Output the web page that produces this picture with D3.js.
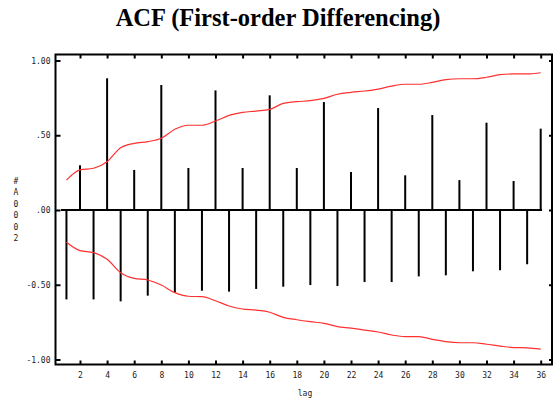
<!DOCTYPE html>
<html>
<head>
<meta charset="utf-8">
<script src="https://cdn.jsdelivr.net/npm/d3@7/dist/d3.min.js"></script>
<style>
  html, body { margin: 0; padding: 0; background: #fff; }
  svg { display: block; }
</style>
</head>
<body>
<svg id="chart" width="556" height="402"></svg>
<script>
// Autocorrelation of the first-differenced series, lags 1..36
const lags = d3.range(1, 37);
const acf = [
  -0.598, 0.299, -0.598, 0.881, -0.611, 0.268, -0.573, 0.836, -0.553,
  0.281, -0.540, 0.800, -0.546, 0.281, -0.528, 0.767, -0.513, 0.281,
  -0.502, 0.722, -0.508, 0.254, -0.482, 0.682, -0.482, 0.232, -0.444,
  0.635, -0.437, 0.200, -0.410, 0.584, -0.403, 0.194, -0.363, 0.544
];
// Upper and lower confidence limits
const upperLimit = [
  0.200, 0.268, 0.279, 0.323, 0.417, 0.446, 0.457, 0.480, 0.540,
  0.567, 0.567, 0.595, 0.633, 0.653, 0.662, 0.673, 0.713, 0.725,
  0.731, 0.747, 0.774, 0.787, 0.796, 0.809, 0.829, 0.841, 0.841,
  0.854, 0.872, 0.878, 0.878, 0.888, 0.905, 0.910, 0.910, 0.918
];
const lowerLimit = [
  -0.216, -0.272, -0.285, -0.330, -0.419, -0.457, -0.468, -0.502, -0.553,
  -0.577, -0.580, -0.607, -0.642, -0.662, -0.670, -0.684, -0.718, -0.734,
  -0.747, -0.758, -0.780, -0.790, -0.803, -0.816, -0.836, -0.847, -0.847,
  -0.865, -0.881, -0.888, -0.888, -0.898, -0.910, -0.920, -0.922, -0.930
];
const xTickValues = d3.range(2, 37, 2);
const yTickValues = [1, 0.5, 0, -0.5, -1];
const yTickLabels = ["1.00", ".50", ".00", "-0.50", "-1.00"];
const titleText = "ACF (First-order Differencing)";
const xLabel = "lag";
const yLabel = "#A0002";

const svg = d3.select("#chart");
const frame = { left: 55.5, right: 552, top: 54.5, bottom: 364.5 };

const x = d3.scaleLinear().domain([2, 36]).range([80, 540.7]);
const y = d3.scaleLinear().domain([-1, 1]).range([359.5, 60.5]);

// Title
svg.append("text")
  .attr("x", 278).attr("y", 26)
  .attr("text-anchor", "middle")
  .style("font-family", "'Liberation Serif', 'Times New Roman', serif")
  .style("font-weight", "bold")
  .style("font-size", "24.5px")
  .text(titleText);

const tickFont = "'DejaVu Sans Mono', monospace";

// Axes: ticks point inward on all four sides
function styleAxis(g) {
  g.select(".domain").remove();
  g.selectAll(".tick line").attr("stroke", "#000").attr("stroke-width", 2);
  g.selectAll(".tick text")
    .attr("fill", "#222")
    .style("font-family", tickFont)
    .style("font-size", "8px");
}

svg.append("g")
  .attr("transform", `translate(0,${frame.bottom})`)
  .call(d3.axisBottom(x).tickValues(xTickValues).tickSize(-4).tickPadding(8).tickFormat(d3.format("d")))
  .call(styleAxis);

svg.append("g")
  .attr("transform", `translate(0,${frame.top})`)
  .call(d3.axisTop(x).tickValues(xTickValues).tickSize(-4).tickFormat(""))
  .call(styleAxis);

svg.append("g")
  .attr("transform", `translate(${frame.left},0)`)
  .call(d3.axisLeft(y).tickValues(yTickValues).tickSize(-5).tickPadding(5)
    .tickFormat((d, i) => yTickLabels[i]))
  .call(styleAxis);

svg.append("g")
  .attr("transform", `translate(${frame.right},0)`)
  .call(d3.axisRight(y).tickValues(yTickValues).tickSize(-3).tickFormat(""))
  .call(styleAxis);

// Frame
svg.append("rect")
  .attr("x", frame.left).attr("y", frame.top)
  .attr("width", frame.right - frame.left)
  .attr("height", frame.bottom - frame.top)
  .attr("fill", "none").attr("stroke", "#000").attr("stroke-width", 2);

// Zero reference line
svg.append("line")
  .attr("x1", x(0.6)).attr("x2", x(36.1))
  .attr("y1", y(0)).attr("y2", y(0))
  .attr("stroke", "#000").attr("stroke-width", 2);

// ACF spikes
svg.append("g").selectAll("line")
  .data(lags)
  .join("line")
  .attr("x1", d => x(d)).attr("x2", d => x(d))
  .attr("y1", y(0)).attr("y2", (d, i) => y(acf[i]))
  .attr("stroke", "#000").attr("stroke-width", 2);

// Confidence limits
const limitLine = d3.line()
  .x((d, i) => x(lags[i]))
  .y(d => y(d))
  .curve(d3.curveMonotoneX);

[upperLimit, lowerLimit].forEach(series => {
  svg.append("path")
    .attr("d", limitLine(series))
    .attr("fill", "none")
    .attr("stroke", "#ff3030")
    .attr("stroke-width", 1.2);
});

// Axis titles
svg.append("text")
  .attr("x", 305).attr("y", 396)
  .attr("text-anchor", "middle")
  .attr("fill", "#222")
  .style("font-family", tickFont)
  .style("font-size", "8px")
  .text(xLabel);

svg.append("g").selectAll("text")
  .data(Array.from(yLabel))
  .join("text")
  .attr("x", 16)
  .attr("y", (d, i) => 184 + i * 11.4)
  .attr("text-anchor", "middle")
  .attr("fill", "#222")
  .style("font-family", tickFont)
  .style("font-size", "8px")
  .text(d => d);
</script>
</body>
</html>
